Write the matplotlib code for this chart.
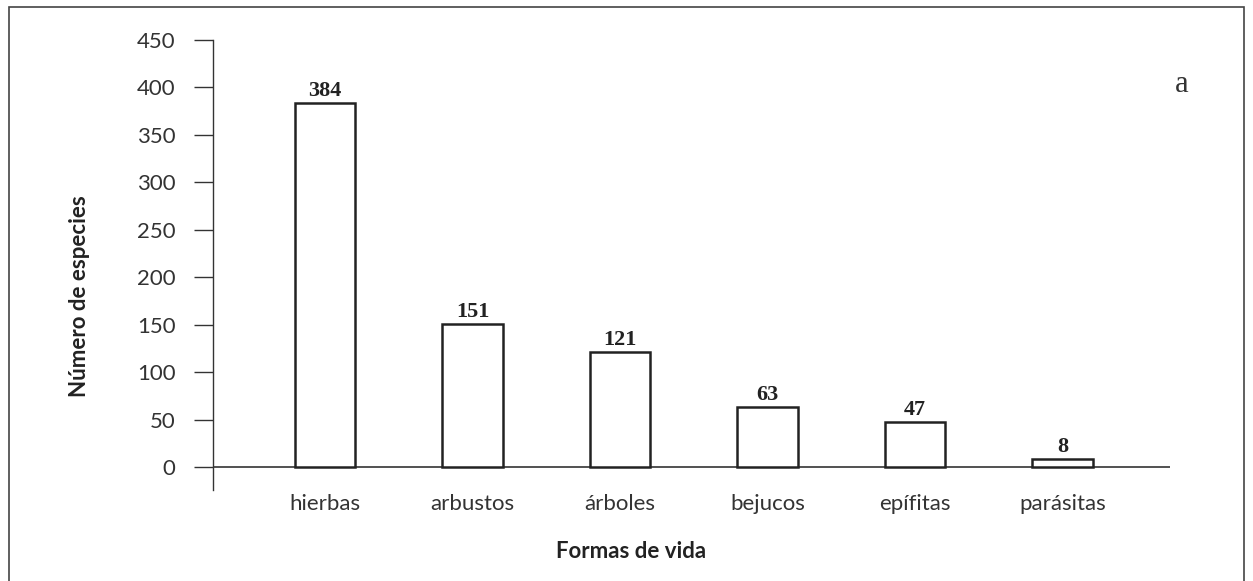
import matplotlib.pyplot as plt
from matplotlib.patches import Rectangle

# Formas de vida - numero de especies
formas = ["hierbas", "arbustos", "árboles", "bejucos", "epífitas", "parásitas"]
especies = [384, 151, 121, 63, 47, 8]
yticks = [0, 50, 100, 150, 200, 250, 300, 350, 400, 450]

W, H = 1253, 581
fig = plt.figure(figsize=(W / 100, H / 100), dpi=100)
ax = fig.add_axes([213 / W, 1 - 490 / H, (1170 - 213) / W, (490 - 40) / H])

x = list(range(len(formas)))
ax.bar(x, especies, width=0.41, color="white", edgecolor="#222222", linewidth=1.8, zorder=3)
ax.axhline(0, color="#333333", linewidth=1.2, zorder=2)

for xi, v in zip(x, especies):
    ax.annotate(str(v), (xi, v), xytext=(0, 5), textcoords="offset points",
                ha="center", va="baseline", fontsize=16, fontweight="bold",
                family="Liberation Serif", color="#222222")

ax.set_xlim(-0.76, 5.73)
ax.set_ylim(-24.2, 450)
ax.set_yticks(yticks)
ax.set_yticklabels([str(t) for t in yticks], fontsize=16, family="Lato", color="#333333")
ax.tick_params(axis="y", direction="out", length=14, width=1.0, pad=13, color="#333333")
ax.set_xticks(x)
ax.set_xticklabels(formas, fontsize=16, family="Lato", color="#333333")
ax.tick_params(axis="x", length=0, pad=3)

for s in ["top", "right", "bottom"]:
    ax.spines[s].set_visible(False)
ax.spines["left"].set_color("#333333")
ax.spines["left"].set_linewidth(1.0)

fig.text(631 / W, 1 - 551 / H, "Formas de vida", ha="center", va="center",
         fontsize=16, fontweight="bold", family="Lato", color="#222222")
fig.text(80 / W, 1 - 296 / H, "Número de especies", ha="center", va="center",
         rotation=90, fontsize=16, fontweight="bold", family="Lato", color="#222222")
fig.text(1182 / W, 1 - 84 / H, "a", ha="center", va="center", fontsize=22,
         family="Liberation Serif", color="#333333")

fig.patches.append(Rectangle((9 / W, -0.05), (1244 - 9) / W, 1 - 7 / H + 0.05,
                             transform=fig.transFigure, fill=False,
                             edgecolor="#444444", linewidth=1.2))

fig.savefig("out.png", dpi=100)
